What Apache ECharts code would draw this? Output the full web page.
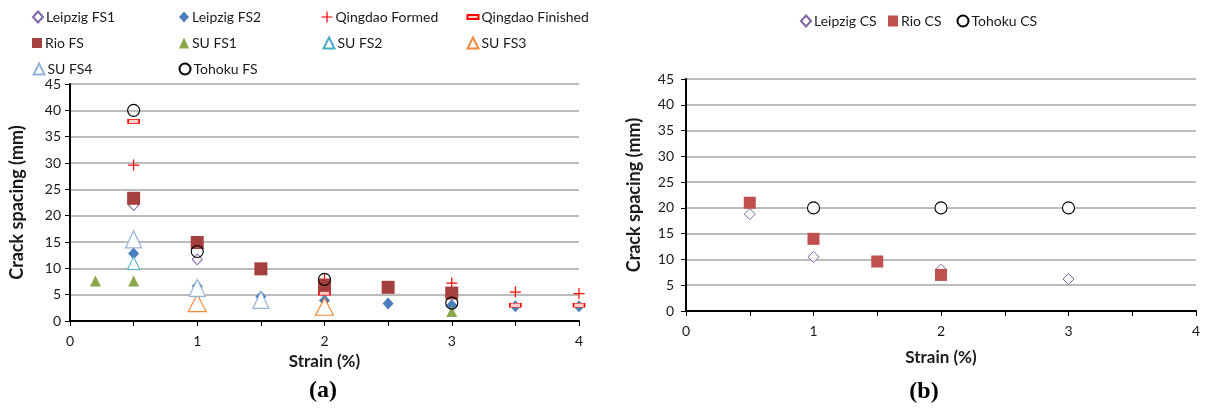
<!DOCTYPE html>
<html><head><meta charset="utf-8">
<script src="https://cdn.jsdelivr.net/npm/echarts@6/dist/echarts.min.js"></script>
<style>html,body{margin:0;padding:0;background:#fff}#c{width:1207px;height:408px}</style>
</head><body><div id="c"></div>
<script>
// ---- data (strain %, crack spacing mm) ----
const xLabels = [0, 1, 2, 3, 4];
const yMax = 45, yStep = 5, xMax = 4, xStep = 0.5;

const leipzigFS1 = [[0.5, 22.0], [1, 11.7]];
const leipzigFS2 = [[0.5, 12.8], [1, 6.6], [1.5, 4.6], [2, 3.9], [2.5, 3.3], [3, 3.0], [3.5, 2.8], [4, 2.8]];
const qingdaoFormed = [[0.5, 29.6], [2, 7.9], [3, 7.2], [3.5, 5.5], [4, 5.2]];
const qingdaoFinished = [[0.5, 37.9], [2, 5.3], [3.5, 3.0], [4, 3.0]];
const rioFS = [[0.5, 23.3], [1, 14.9], [1.5, 9.9], [2, 6.8], [2.5, 6.4], [3, 5.3]];
const suFS1 = [[0.2, 7.6], [0.5, 7.6], [3, 1.8]];
const suFS2 = [[0.5, 11.0]];
const suFS3 = [[1, 3.4], [2, 2.7]];
const suFS4 = [[0.5, 15.5], [1, 6.3], [1.5, 4.0]];
const tohokuFS = [[0.5, 40.0], [1, 13.2], [2, 7.9], [3, 3.4]];

const leipzigCS = [[0.5, 18.8], [1, 10.5], [2, 8.0], [3, 6.2]];
const rioCS = [[0.5, 21.0], [1, 14.0], [1.5, 9.6], [2, 7.0]];
const tohokuCS = [[1, 20], [2, 20], [3, 20]];

// ---- styling ----
const FONT = 'Lato';
const TXT = '#1a1a1a';
const PLUS = 'path://M4.45,0h1.1v4.45h4.45v1.1h-4.45v4.45h-1.1v-4.45h-4.45v-1.1h4.45z';

function sc(name, data, grid, symbol, size, fill, border, bw) {
  return {
    type: 'scatter', name, data, xAxisIndex: grid, yAxisIndex: grid,
    symbol, symbolSize: size,
    itemStyle: { color: fill, borderColor: border || fill, borderWidth: bw === undefined ? 0 : bw, opacity: 1 },
    emphasis: { disabled: true }, animation: false, silent: true
  };
}

const series = [
  sc('Leipzig FS1', leipzigFS1, 0, 'diamond', [10, 11], '#ffffff', '#7F64A8', 1),
  sc('Leipzig FS2', leipzigFS2, 0, 'diamond', [11, 12], '#4A7EBB'),
  sc('Qingdao Formed', qingdaoFormed, 0, PLUS, 11, '#FF0000'),
  sc('Qingdao Finished', qingdaoFinished, 0, 'rect', [11, 4], '#FFD0C8', '#FF0000', 1),
  sc('Rio FS', rioFS, 0, 'rect', 13, '#A5403F'),
  sc('SU FS1', suFS1, 0, 'triangle', [11, 11], '#8AA84B'),
  sc('SU FS2', suFS2, 0, 'triangle', [12, 13], '#ffffff', '#4BACC6', 1),
  sc('SU FS3', suFS3, 0, 'triangle', [18, 17], '#ffffff', '#F08A3C', 1.2),
  sc('SU FS4', suFS4, 0, 'triangle', [16, 17], '#ffffff', '#95B3D7', 1.2),
  sc('Tohoku FS', tohokuFS, 0, 'circle', 12, 'rgba(255,255,255,0)', '#000000', 1.1),
  sc('Leipzig CS', leipzigCS, 1, 'diamond', [11, 11], '#ffffff', '#8064A2', 1),
  sc('Rio CS', rioCS, 1, 'rect', 12, '#C0504D'),
  sc('Tohoku CS', tohokuCS, 1, 'circle', 12, '#ffffff', '#000000', 1.1)
];

// legend layout: [name, symbol-centre x, row-centre y, iconW, iconH]
const legendPos = [
  ['Leipzig FS1', 37, 17, 10, 11], ['Leipzig FS2', 184, 17, 10, 11], ['Qingdao Formed', 327, 17, 11, 11], ['Qingdao Finished', 472, 17, 11, 4],
  ['Rio FS', 37, 43, 10, 10], ['SU FS1', 184, 43, 10, 11], ['SU FS2', 328, 43, 11, 11], ['SU FS3', 472, 43, 11, 11],
  ['SU FS4', 38, 69, 11, 11], ['Tohoku FS', 184, 69, 11, 11],
  ['Leipzig CS', 805, 21, 10, 11], ['Rio CS', 893, 21, 10, 11], ['Tohoku CS', 962, 21, 11, 11]
];
const legends = legendPos.map(([n, x, y, w, h]) => ({
  data: [n], left: x - w / 2, top: y - 8, padding: 0, itemWidth: w, itemHeight: h,
  selectedMode: false, itemGap: 0,
  textStyle: { fontFamily: FONT, fontSize: 14, color: TXT, lineHeight: 16, padding: [0, 0, 0, -2] }
}));

function xAx(grid, gap) {
  return {
    type: 'value', gridIndex: grid, min: 0, max: xMax, interval: xStep,
    axisLine: { show: true, onZero: false, lineStyle: { color: '#000', width: 2 } },
    axisTick: { show: true, length: 5, lineStyle: { color: '#000', width: 1 } },
    axisLabel: { formatter: v => (xLabels.indexOf(v) >= 0 ? String(v) : ''), margin: 13, fontFamily: FONT, fontSize: 14, color: TXT },
    splitLine: { show: false },
    name: 'Strain (%)', nameLocation: 'middle', nameGap: gap,
    nameTextStyle: { fontFamily: FONT, fontSize: 17, fontWeight: 'bold', color: TXT }
  };
}
function yAx(grid, margin, gap) {
  return {
    type: 'value', gridIndex: grid, min: 0, max: yMax, interval: yStep,
    axisLine: { show: true, onZero: false, lineStyle: { color: '#000', width: 2 } },
    axisTick: { show: true, length: 5, lineStyle: { color: '#000', width: 1 } },
    axisLabel: { margin, fontFamily: FONT, fontSize: 14, color: TXT },
    splitLine: { show: true, lineStyle: { color: '#A6A6A6', width: 1.5 } },
    name: 'Crack spacing (mm)', nameLocation: 'middle', nameGap: gap,
    nameTextStyle: { fontFamily: FONT, fontSize: 18, fontWeight: 'bold', color: TXT }
  };
}

const chart = echarts.init(document.getElementById('c'), null, { renderer: 'canvas' });
chart.setOption({
  backgroundColor: '#ffffff',
  animation: false,
  grid: [
    { left: 70, top: 84, width: 509, height: 237 },
    { left: 686, top: 79, width: 510, height: 232 }
  ],
  xAxis: [xAx(0, 32), xAx(1, 38)],
  yAxis: [yAx(0, 9, 44), yAx(1, 12, 43)],
  legend: legends,
  series,
  graphic: [
    { type: 'text', x: 323, y: 391, style: { text: '(a)', font: 'bold 24px "Liberation Serif"', align: 'center', verticalAlign: 'middle', fill: '#000' } },
    { type: 'text', x: 924, y: 392, style: { text: '(b)', font: 'bold 24px "Liberation Serif"', align: 'center', verticalAlign: 'middle', fill: '#000' } }
  ]
});
</script></body></html>
